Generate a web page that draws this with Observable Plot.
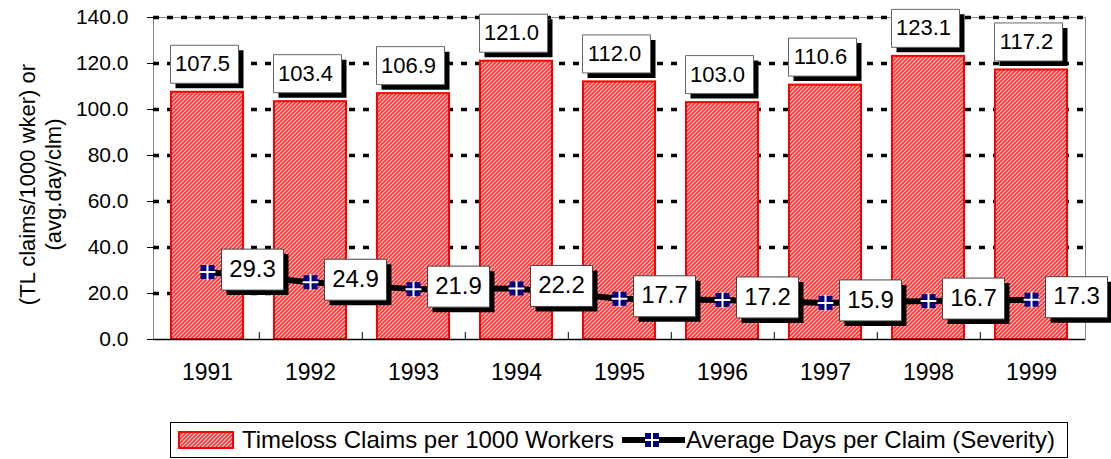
<!DOCTYPE html>
<html>
<head>
<meta charset="utf-8">
<script src="https://cdn.jsdelivr.net/npm/d3@7"></script>
<script src="https://cdn.jsdelivr.net/npm/@observablehq/plot@0.6"></script>
<style>
  html, body { margin: 0; padding: 0; background: #fff; }
  #wrap { position: relative; width: 1111px; height: 459px; font-family: "Liberation Sans", Arial, sans-serif; }
  #legend { position: absolute; left: 170px; top: 422px; width: 896px; height: 34px; border: 1px solid #000; background: #fff; box-sizing: content-box; }
  #legend .item { position: absolute; top: 0; height: 34px; line-height: 34px; font-size: 24px; color: #000; white-space: nowrap; }
</style>
</head>
<body>
<div id="wrap"></div>
<script>
const years = ["1991","1992","1993","1994","1995","1996","1997","1998","1999"];
const claims = [107.5,103.4,106.9,121.0,112.0,103.0,110.6,123.1,117.2];
const days = [29.3,24.9,21.9,22.2,17.7,17.2,15.9,16.7,17.3];
const yTicks = [0,20,40,60,80,100,120,140];
const claimsLabel = "Timeloss Claims per 1000 Workers";
const daysLabel = "Average Days per Claim (Severity)";
const yTitle = "(TL claims/1000 wker) or\n(avg.day/clm)";

const data = years.map((y, i) => ({year: y, claims: claims[i], days: days[i]}));
const font = '"Liberation Sans", Arial, sans-serif';

const crossSymbol = {
  draw(context, size) {
    const r = Math.sqrt(size / Math.PI);
    context.moveTo(-r, 0); context.lineTo(r, 0);
    context.moveTo(0, -r); context.lineTo(0, r);
  }
};
const boxSymbol = (w, h) => ({
  draw(context) { context.rect(-w / 2, -h / 2, w, h); }
});

const barBox = boxSymbol(68, 38);
const dayBox = boxSymbol(62, 41);

const chart = Plot.plot({
  width: 1111,
  height: 459,
  marginTop: 17,
  marginLeft: 153,
  marginRight: 26,
  marginBottom: 120,
  style: {fontFamily: font, fontSize: "20px", color: "#000", background: "#fff", overflow: "visible"},
  x: {domain: years, paddingInner: 0.3, paddingOuter: 0.15, label: null},
  y: {domain: [0, 140], label: null},
  marks: [
    () => {
      const svgNS = "http://www.w3.org/2000/svg";
      const defs = document.createElementNS(svgNS, "defs");
      defs.innerHTML = `<pattern id="hatch" patternUnits="userSpaceOnUse" width="4" height="4">
        <rect width="4" height="4" fill="#ff3434"/>
        <path d="M-1,1 l2,-2 M0,4 l4,-4 M3,5 l2,-2" stroke="#ffd6d6" stroke-width="1.1"/>
      </pattern>`;
      return defs;
    },
    Plot.frame({stroke: "#888", strokeWidth: 1}),
    Plot.ruleY(yTicks.filter(d => d > 0), {stroke: "#000", strokeWidth: 3.5, strokeDasharray: "6,8"}),
    Plot.barY(data, {x: "year", y: "claims", fill: "url(#hatch)", stroke: "#ff0000", strokeWidth: 2}),
    Plot.ruleX(years.slice(0, -1), {x: d => d, dx: 51.8, y1: 0, y2: 3, stroke: "#000", strokeWidth: 1}),
    Plot.ruleY([0], {stroke: "#000", strokeWidth: 1.5}),
    Plot.ruleX([0], {x: () => 0, frameAnchor: "left", stroke: "#000"}),
    Plot.axisY({ticks: yTicks, tickSize: 6, tickPadding: 19, tickFormat: d => d.toFixed(1), fontSize: 21, stroke: "#000"}),
    Plot.axisX({tickSize: 0, tickPadding: 24, fontSize: 23}),
    Plot.line(data, {x: "year", y: "days", stroke: "#000", strokeWidth: 6}),
    Plot.dot(data, {x: "year", y: "days", symbol: "square", r: 7.9, fill: "#000080", stroke: "none"}),
    Plot.dot(data, {x: "year", y: "days", symbol: crossSymbol, r: 7.9, fill: "none", stroke: "#fff", strokeWidth: 2}),
    // bar value labels
    Plot.dot(data, {x: "year", y: "claims", symbol: barBox, r: 10, fill: "#000", stroke: "none", dx: 2, dy: -23}),
    Plot.dot(data, {x: "year", y: "claims", symbol: barBox, r: 10, fill: "#fff", stroke: "#666", strokeWidth: 1, dx: -3, dy: -28}),
    Plot.text(data, {x: "year", y: "claims", text: d => d.claims.toFixed(1), dx: -5, dy: -28, fontSize: 22, fill: "#000"}),
    // severity labels
    Plot.dot(data, {x: "year", y: "days", symbol: dayBox, r: 10, fill: "#000", stroke: "none", dx: 50, dy: 2.5}),
    Plot.dot(data, {x: "year", y: "days", symbol: dayBox, r: 10, fill: "#fff", stroke: "#444", strokeWidth: 1, dx: 45, dy: -2.5}),
    Plot.text(data, {x: "year", y: "days", text: d => d.days.toFixed(1), dx: 45, dy: -3, fontSize: 24, fill: "#000"}),
    Plot.text([yTitle], {frameAnchor: "left", text: d => d, rotate: -90, dx: -114, dy: 6, fontSize: 22, lineHeight: 1.2, textAnchor: "middle", lineAnchor: "middle", fill: "#000"})
  ]
});

const wrap = document.getElementById("wrap");
wrap.appendChild(chart);

const legend = document.createElement("div");
legend.id = "legend";
legend.innerHTML = `
  <svg style="position:absolute;left:7px;top:8px" width="56" height="18">
    <defs><pattern id="hatch2" patternUnits="userSpaceOnUse" width="4" height="4">
      <rect width="4" height="4" fill="#ff3434"/>
      <path d="M-1,1 l2,-2 M0,4 l4,-4 M3,5 l2,-2" stroke="#ffd6d6" stroke-width="1.1"/>
    </pattern></defs>
    <rect x="1" y="1" width="54" height="16" fill="url(#hatch2)" stroke="#ff0000" stroke-width="2"/>
  </svg>
  <div class="item" style="left:71px">${claimsLabel}</div>
  <svg style="position:absolute;left:451px;top:9px" width="63" height="16">
    <line x1="0" y1="8" x2="63" y2="8" stroke="#000" stroke-width="6"/>
    <rect x="23" y="1" width="14" height="14" fill="#000080"/>
    <line x1="23" y1="8" x2="37" y2="8" stroke="#fff" stroke-width="2"/>
    <line x1="30" y1="1" x2="30" y2="15" stroke="#fff" stroke-width="2"/>
  </svg>
  <div class="item" style="left:515px">${daysLabel}</div>
`;
wrap.appendChild(legend);
</script>
</body>
</html>
